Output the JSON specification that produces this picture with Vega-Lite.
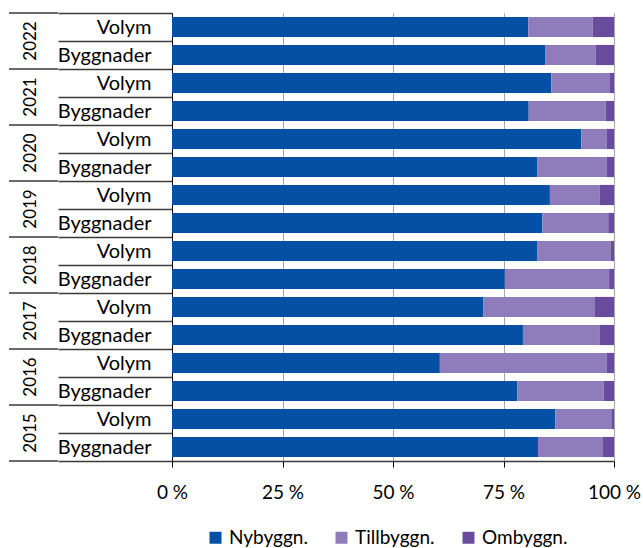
{
  "$schema": "https://vega.github.io/schema/vega-lite/v6.json",
  "padding": {"left": 8, "top": 3, "right": 5, "bottom": 0},
  "config": {"font": "Lato", "view": {"stroke": null}},
  "bounds": "flush",
  "spacing": 114,
  "resolve": {"legend": {"color": "independent"}},
  "datasets": {
    "years": [
      {"year": "2022"}, {"year": "2021"}, {"year": "2020"}, {"year": "2019"},
      {"year": "2018"}, {"year": "2017"}, {"year": "2016"}, {"year": "2015"}
    ],
    "bars": [
      {"bar": "2022 Volym", "category": "Nybyggn.", "value": 80.6},
      {"bar": "2022 Volym", "category": "Tillbyggn.", "value": 14.6},
      {"bar": "2022 Volym", "category": "Ombyggn.", "value": 4.8},
      {"bar": "2022 Byggnader", "category": "Nybyggn.", "value": 84.4},
      {"bar": "2022 Byggnader", "category": "Tillbyggn.", "value": 11.5},
      {"bar": "2022 Byggnader", "category": "Ombyggn.", "value": 4.1},
      {"bar": "2021 Volym", "category": "Nybyggn.", "value": 85.8},
      {"bar": "2021 Volym", "category": "Tillbyggn.", "value": 13.3},
      {"bar": "2021 Volym", "category": "Ombyggn.", "value": 0.9},
      {"bar": "2021 Byggnader", "category": "Nybyggn.", "value": 80.7},
      {"bar": "2021 Byggnader", "category": "Tillbyggn.", "value": 17.4},
      {"bar": "2021 Byggnader", "category": "Ombyggn.", "value": 1.9},
      {"bar": "2020 Volym", "category": "Nybyggn.", "value": 92.6},
      {"bar": "2020 Volym", "category": "Tillbyggn.", "value": 5.8},
      {"bar": "2020 Volym", "category": "Ombyggn.", "value": 1.6},
      {"bar": "2020 Byggnader", "category": "Nybyggn.", "value": 82.6},
      {"bar": "2020 Byggnader", "category": "Tillbyggn.", "value": 15.8},
      {"bar": "2020 Byggnader", "category": "Ombyggn.", "value": 1.6},
      {"bar": "2019 Volym", "category": "Nybyggn.", "value": 85.5},
      {"bar": "2019 Volym", "category": "Tillbyggn.", "value": 11.3},
      {"bar": "2019 Volym", "category": "Ombyggn.", "value": 3.2},
      {"bar": "2019 Byggnader", "category": "Nybyggn.", "value": 83.8},
      {"bar": "2019 Byggnader", "category": "Tillbyggn.", "value": 14.9},
      {"bar": "2019 Byggnader", "category": "Ombyggn.", "value": 1.3},
      {"bar": "2018 Volym", "category": "Nybyggn.", "value": 82.6},
      {"bar": "2018 Volym", "category": "Tillbyggn.", "value": 16.6},
      {"bar": "2018 Volym", "category": "Ombyggn.", "value": 0.8},
      {"bar": "2018 Byggnader", "category": "Nybyggn.", "value": 75.3},
      {"bar": "2018 Byggnader", "category": "Tillbyggn.", "value": 23.6},
      {"bar": "2018 Byggnader", "category": "Ombyggn.", "value": 1.1},
      {"bar": "2017 Volym", "category": "Nybyggn.", "value": 70.4},
      {"bar": "2017 Volym", "category": "Tillbyggn.", "value": 25.3},
      {"bar": "2017 Volym", "category": "Ombyggn.", "value": 4.3},
      {"bar": "2017 Byggnader", "category": "Nybyggn.", "value": 79.4},
      {"bar": "2017 Byggnader", "category": "Tillbyggn.", "value": 17.3},
      {"bar": "2017 Byggnader", "category": "Ombyggn.", "value": 3.3},
      {"bar": "2016 Volym", "category": "Nybyggn.", "value": 60.6},
      {"bar": "2016 Volym", "category": "Tillbyggn.", "value": 37.8},
      {"bar": "2016 Volym", "category": "Ombyggn.", "value": 1.6},
      {"bar": "2016 Byggnader", "category": "Nybyggn.", "value": 78.1},
      {"bar": "2016 Byggnader", "category": "Tillbyggn.", "value": 19.6},
      {"bar": "2016 Byggnader", "category": "Ombyggn.", "value": 2.3},
      {"bar": "2015 Volym", "category": "Nybyggn.", "value": 86.7},
      {"bar": "2015 Volym", "category": "Tillbyggn.", "value": 12.7},
      {"bar": "2015 Volym", "category": "Ombyggn.", "value": 0.6},
      {"bar": "2015 Byggnader", "category": "Nybyggn.", "value": 82.8},
      {"bar": "2015 Byggnader", "category": "Tillbyggn.", "value": 14.7},
      {"bar": "2015 Byggnader", "category": "Ombyggn.", "value": 2.5}
    ]
  },
  "hconcat": [
    {
      "width": 49,
      "height": 448,
      "data": {"name": "years"},
      "layer": [
        {
          "mark": {"type": "rule", "color": "#3a3a3a", "strokeWidth": 1.3},
          "encoding": {
            "y": {"field": "year", "type": "nominal", "sort": "descending", "bandPosition": 0, "axis": null,
                  "scale": {"paddingInner": 0, "paddingOuter": 0}}
          }
        },
        {
          "transform": [{"filter": "datum.year == '2015'"}],
          "mark": {"type": "rule", "color": "#3a3a3a", "strokeWidth": 1.3},
          "encoding": {
            "y": {"field": "year", "type": "nominal", "sort": "descending", "bandPosition": 1, "axis": null}
          }
        },
        {
          "mark": {"type": "text", "angle": 270, "fontSize": 17, "color": "black", "baseline": "middle", "align": "center", "dy": -3},
          "encoding": {
            "y": {"field": "year", "type": "nominal", "sort": "descending", "axis": null},
            "text": {"field": "year"}
          }
        }
      ]
    },
    {
      "width": 442,
      "height": 448,
      "data": {"name": "bars"},
      "transform": [
        {"calculate": "indexof(['Nybyggn.', 'Tillbyggn.', 'Ombyggn.'], datum.category)", "as": "stackOrder"}
      ],
      "mark": {"type": "bar", "height": {"band": 0.72}},
      "encoding": {
        "y": {
          "field": "bar", "type": "nominal", "sort": null,
          "scale": {"paddingInner": 0, "paddingOuter": 0},
          "axis": {
            "title": null,
            "labelExpr": "split(datum.label, ' ')[1]",
            "tickBand": "extent",
            "tickSize": 114,
            "tickColor": "#3a3a3a",
            "tickWidth": 1.3,
            "domainColor": "black",
            "labelPadding": -93,
            "labelFontSize": 20,
            "labelColor": "black",
            "labelAlign": "right",
            "grid": false
          }
        },
        "x": {
          "field": "value", "type": "quantitative", "stack": "zero",
          "scale": {"domain": [0, 100], "nice": false},
          "axis": {
            "title": null,
            "values": [0, 25, 50, 75, 100],
            "labelExpr": "datum.value + ' %'",
            "grid": true,
            "gridColor": "#a6a6a6",
            "tickColor": "black",
            "domainColor": "#3a3a3a",
            "domainWidth": 1.3,
            "tickSize": 6,
            "labelFontSize": 19,
            "labelColor": "black",
            "labelPadding": 16,
            "labelFlush": false
          }
        },
        "order": {"field": "stackOrder", "type": "quantitative", "sort": "ascending"},
        "color": {
          "field": "category", "type": "nominal",
          "sort": ["Nybyggn.", "Tillbyggn.", "Ombyggn."],
          "scale": {"domain": ["Nybyggn.", "Tillbyggn.", "Ombyggn."], "range": ["#0550a5", "#8e7cbb", "#6a4c9c"]},
          "legend": {
            "title": null, "orient": "none", "direction": "horizontal",
            "legendX": 34, "legendY": 515,
            "symbolType": "square", "symbolSize": 144, "symbolStrokeWidth": 0,
            "labelOffset": 4,
            "labelFontSize": 19, "labelColor": "black", "columnPadding": 24
          }
        }
      }
    }
  ]
}
